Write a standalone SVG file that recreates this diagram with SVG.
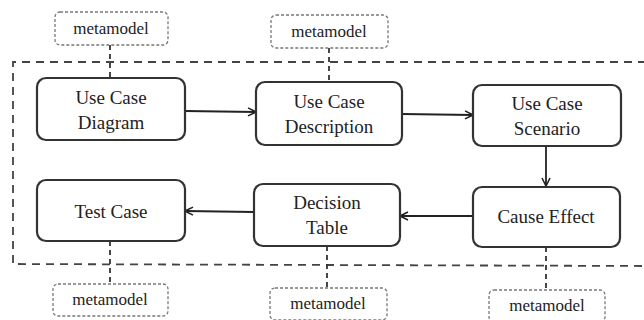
<svg xmlns="http://www.w3.org/2000/svg" width="644" height="320" viewBox="0 0 644 320">
<defs>
<style>
.node rect{fill:#fff;stroke:#333;stroke-width:2.2}
.meta rect{fill:#fff;stroke:#777;stroke-width:1.3;stroke-dasharray:3 2}
text{font-family:"Liberation Serif","Times New Roman",serif;font-size:19px;fill:#222;text-anchor:middle}
.meta text{font-size:17px}
.flow{stroke:#222;stroke-width:1.8;fill:none}
.dash{stroke:#333;stroke-width:1.8;fill:none;stroke-dasharray:5 4}
.frame{stroke:#444;stroke-width:1.8;fill:none;stroke-dasharray:8 6}
</style>
<marker id="arr" viewBox="0 0 10 10" refX="9" refY="5" markerWidth="10" markerHeight="10" markerUnits="userSpaceOnUse" orient="auto">
<path d="M1,1 L9,5 L1,9" fill="none" stroke="#222" stroke-width="1.6"/>
</marker>
</defs>
<path class="frame" d="M646,62 L13,62 L13,264 L646,266"/>
<g id="connectors">
<line class="flow" x1="185" y1="111" x2="256" y2="112" marker-end="url(#arr)"/>
<line class="flow" x1="402" y1="114" x2="473" y2="115" marker-end="url(#arr)"/>
<line class="flow" x1="546" y1="146" x2="546" y2="186" marker-end="url(#arr)"/>
<line class="flow" x1="473" y1="216" x2="400" y2="216" marker-end="url(#arr)"/>
<line class="flow" x1="254" y1="212" x2="185" y2="211" marker-end="url(#arr)"/>
<line class="dash" x1="110" y1="45" x2="110" y2="78"/>
<line class="dash" x1="329" y1="48" x2="329" y2="82"/>
<line class="dash" x1="110" y1="241" x2="110" y2="284"/>
<line class="dash" x1="327" y1="246" x2="327" y2="288"/>
<line class="dash" x1="546" y1="247" x2="546" y2="290"/>
</g>
<g id="n1" class="node"><rect x="37" y="78" width="148" height="62" rx="9"/><text x="111" y="104">Use Case</text><text x="111" y="129">Diagram</text></g>
<g id="n2" class="node"><rect x="256" y="82" width="146" height="63" rx="9"/><text x="329" y="108">Use Case</text><text x="329" y="133">Description</text></g>
<g id="n3" class="node"><rect x="473" y="85" width="148" height="61" rx="9"/><text x="547" y="110">Use Case</text><text x="547" y="135">Scenario</text></g>
<g id="n4" class="node"><rect x="37" y="180" width="148" height="61" rx="9"/><text x="111" y="218">Test Case</text></g>
<g id="n5" class="node"><rect x="254" y="184" width="146" height="62" rx="9"/><text x="327" y="209">Decision</text><text x="327" y="234">Table</text></g>
<g id="n6" class="node"><rect x="473" y="187" width="147" height="60" rx="9"/><text x="546" y="223">Cause Effect</text></g>
<g id="m1" class="meta"><rect x="55" y="12" width="113" height="33" rx="5"/><text x="111" y="34">metamodel</text></g>
<g id="m2" class="meta"><rect x="271" y="15" width="117" height="33" rx="5"/><text x="329" y="37">metamodel</text></g>
<g id="m3" class="meta"><rect x="53" y="284" width="115" height="32" rx="5"/><text x="110" y="305">metamodel</text></g>
<g id="m4" class="meta"><rect x="270" y="288" width="117" height="32" rx="5"/><text x="328" y="309">metamodel</text></g>
<g id="m5" class="meta"><rect x="489" y="290" width="116" height="32" rx="5"/><text x="547" y="311">metamodel</text></g>
</svg>
